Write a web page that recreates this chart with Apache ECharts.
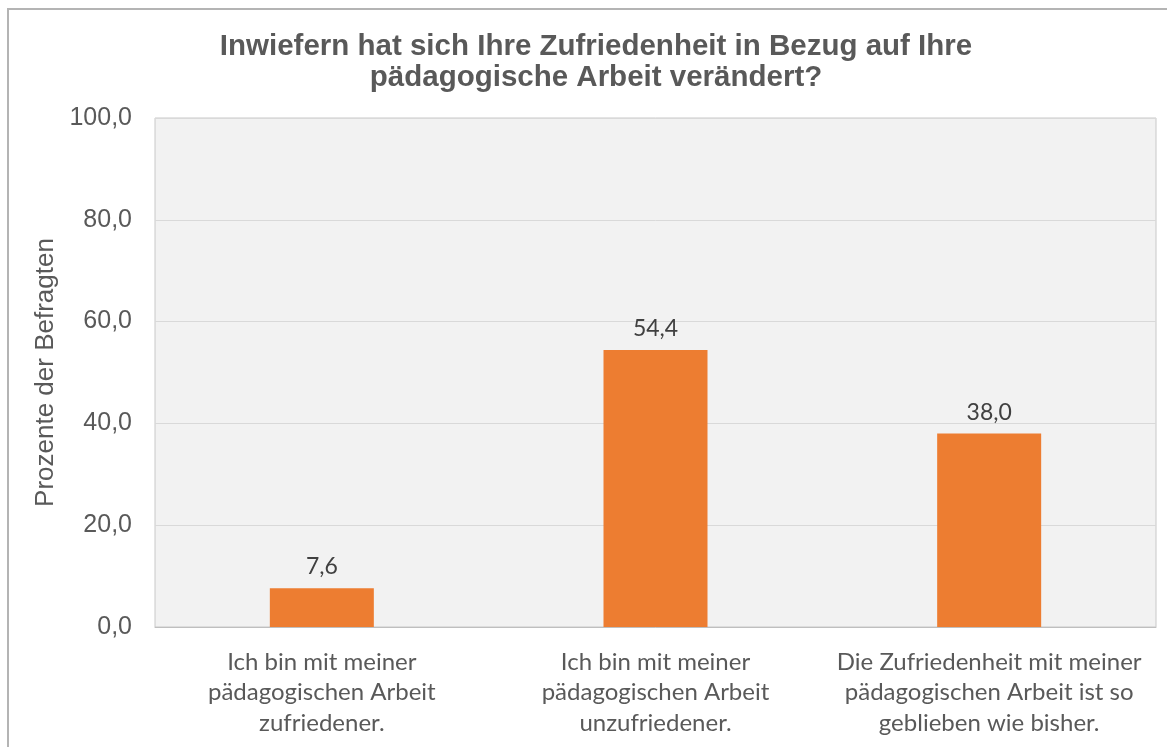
<!DOCTYPE html>
<html><head><meta charset="utf-8">
<script src="https://cdn.jsdelivr.net/npm/echarts@6/dist/echarts.min.js"></script>
<style>html,body{margin:0;padding:0;background:#fff}#c{width:1167px;height:747px}</style>
</head><body><div id="c"></div>
<script>
const titleText = 'Inwiefern hat sich Ihre Zufriedenheit in Bezug auf Ihre\npädagogische Arbeit verändert?';
const categories = [
  'Ich bin mit meiner\npädagogischen Arbeit\nzufriedener.',
  'Ich bin mit meiner\npädagogischen Arbeit\nunzufriedener.',
  'Die Zufriedenheit mit meiner\npädagogischen Arbeit ist so\ngeblieben wie bisher.'
];
const values = [7.6, 54.4, 38.0];
const yAxisName = 'Prozente der Befragten';
const fmt = v => v.toFixed(1).replace('.', ',');

const chart = echarts.init(document.getElementById('c'));
chart.setOption({
  backgroundColor: '#fff',
  animation: false,
  title: {
    text: titleText,
    left: 591, top: 26, textAlign: 'center',
    textStyle: { fontFamily: 'Liberation Sans, Arial', fontWeight: 'bold', fontSize: 29.5, color: '#595959', lineHeight: 31 }
  },
  graphic: [{
    type: 'rect', shape: { x: 8, y: 9, width: 1200, height: 800 },
    style: { fill: 'none', stroke: '#b4b4b4', lineWidth: 2 }, silent: true
  }],
  grid: { left: 155, top: 118, right: 11, bottom: 120, show: true, backgroundColor: '#f2f2f2', borderColor: '#c8c8c8', borderWidth: 1 },
  xAxis: {
    type: 'category', data: categories,
    axisLine: { show: true, lineStyle: { color: '#bfbfbf', width: 1 } },
    axisTick: { show: false },
    axisLabel: { interval: 0, margin: 20, fontFamily: 'Lato, Open Sans, sans-serif', fontSize: 24, lineHeight: 30.5, color: '#595959', align: 'center' }
  },
  yAxis: {
    type: 'value', min: 0, max: 100, interval: 20,
    name: yAxisName, nameLocation: 'middle', nameGap: 96, nameRotate: 90,
    nameTextStyle: { fontFamily: 'Liberation Sans, Arial', fontSize: 26, color: '#595959' },
    axisLine: { show: false }, axisTick: { show: false },
    axisLabel: { margin: 23, formatter: fmt, fontFamily: 'Liberation Sans, Arial', fontSize: 25, color: '#595959' },
    splitLine: { lineStyle: { color: '#d9d9d9', width: 1 } }
  },
  series: [{
    type: 'bar', data: values, barWidth: 104,
    itemStyle: { color: '#ed7d31' },
    label: { show: true, position: 'top', distance: 10, formatter: p => fmt(p.value), fontFamily: 'Lato, Open Sans, sans-serif', fontSize: 23, color: '#404040' }
  }]
});
</script></body></html>
